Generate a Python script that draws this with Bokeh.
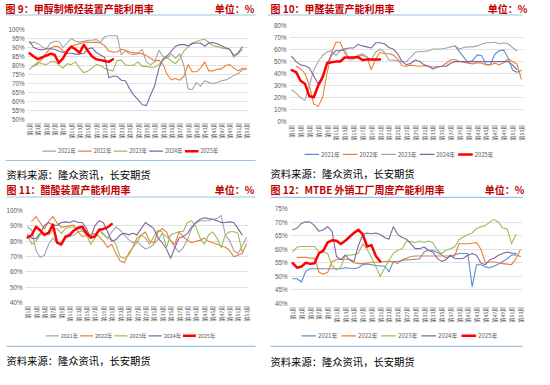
import math
import numpy as np
from bokeh.plotting import figure
from bokeh.layouts import column, row
from bokeh.models import FixedTicker, PrintfTickFormatter, Range1d, Plot
from bokeh.core.properties import value
from bokeh.embed import file_html
from bokeh.resources import INLINE

N = None
weeks = list(range(1, 54))
tick_weeks = list(range(1, 54, 2))
tick_labels = ["第%d周" % w for w in tick_weeks]
years = ["2021年", "2022年", "2023年", "2024年", "2025年"]
source_text = "资料来源：隆众资讯，长安期货"
unit_text = "单位：%"

title9 = "图 9：甲醇制烯烃装置产能利用率"
title10 = "图 10：甲醛装置产能利用率"
title11 = "图 11：醋酸装置产能利用率"
title12 = "图 12：MTBE 外销工厂周度产能利用率"

# ---- Panel 9: MTO utilisation (%) ----
p9_2021 = [92.5, 93, 92, 90.5, 89, 92.5, 93.5, 93.5, 90, 92.5, 95, 93.5, 93, 93.5, 94, 94, 94.5, 93,
           96, 96.5, 96.5, 96.5, 86, 88, 86.5, 86, 86.5, 89, 82, 80.5, 82, 88.5, 85, 84, 86.5, 84,
           86.5, 80, 67, 66.5, 70.5, 68.5, 71.5, 70.5, 70, 70.5, 71.5, 72, 73, 74.5, 75.5, 77.5, 78]
p9_2022 = [N, 79.5, 81, 83.5, 87, 89.5, 90.7, 90.5, 88, 87.2, 90.5, 91.5, 92, 93, 93, 92.8, 93, 92.5,
           91, 88, 87.5, 87.5, 89, 88.5, 87.5, 87, 87, 86.5, 85.5, 84, 82.5, 83, 80.5, 75, 72, 72.8,
           71.8, 74, 80.5, 76.5, 76.5, 78.5, 82, 77, 77, 78, 78, 80, 80.5, 78.5, 77, 78.5, 78.5]
p9_2023 = [78, 80, 82, 81, 80.5, 82, 82.3, 80.5, 78.5, 81, 80.5, 82, 78.5, 76, 77, 78.5, 80.5, 80,
           78.5, 77.5, 77, 82.8, 83, 80.2, 80, 80.2, 82, 79.5, 79.5, 79, 79, 80.5, 82.8, 84.5, 82.5,
           81, 83.7, 88, 90.4, 92.5, 93.3, 94.2, 94.6, 92.8, 91, 90.5, 89.8, 89.3, 89, 84.5, 86.5, 89, N]
p9_2024 = [93.3, 90, 89, 88.7, 89.3, 89.3, 89, 88, 87.2, 86.8, 86.8, 86.3, 86.3, 86.8, 89.3, 89.8,
           87.2, 85.8, 84.6, 73.2, 74, 74, 71.8, 71.5, 67, 63.5, 61, 58.2, 57.7, 63.5, 68.8, 78.4,
           83.7, 85.4, 88, 90.7, 91.6, 91.6, 91, 92.1, 92.5, 92.5, 90.7, 92.5, 92.8, 92.1, 91, 89.8,
           89, 85.5, 87, 90.4, N]
p9_2025 = [86.8, 85, 83.5, 84.5, 85.5, 86.5, 86, 81.5, 84, 88, 90.5, 89, 87, 91.5, 88, 85, 83.5, 83,
           82.5, 82, 83.5]

# ---- Panel 10: formaldehyde utilisation (%) ----
p10_2021 = [N] * 37 + [63, 58, 53.5, 49, 51, 55.5, 55, 47.5, 47.5, 56, 59, 59.5, 53, 43, 41, 42.5, 48.6]
p10_2022 = [N, 46, 44, 40, 30, 14.5, 12.6, 20, 40, 57, 66, 66, 57, 53.5, 53, 54.5, 55, 54, 43.3, 52,
            57.5, 56.4, 56.4, 55.5, 52, 46.5, 46, 47, 46.5, 46, 46.5, 46, 45.4, 45.4, 46, 48.6, 51.2,
            51.7, 50, 49.5, 48.6, 48, 49, 48.6, 47.2, 47.2, 48.6, 47.2, 49, 52, 50, 48, 35.4]
p10_2023 = [26.2, 23.6, 19.7, 17.6, 30, 43, 50, 55, 58, 59, 55.1, 59, 60.4, 51.2, 51.7, 55.1, 56.4,
            54, 51.2, 57.7, 60.4, 57.7, 51.2, 51.2, 50.7, 49.9, 49.9, 53.8, 57.7, 58.3, 58.3, 59,
            60.4, 60.4, 60.4, 61.2, 62.2, 63, 60.4, 61.7, 62.2, 62.2, 63, 64.3, 65.6, 65.6, 66.1,
            64.8, 65.6, 64.8, 61.7, 59, N]
p10_2024 = [54.3, 49.9, 47.2, 46.5, 44.6, 38, 31.5, 38, 48.6, 55.1, 59, 59, 60.4, 61.2, 61.2, 64.3,
            63, 62.2, 61.2, 65.6, 65.6, 64.8, 61.7, 60.4, 56.4, 49.9, 47.2, 48.6, 51.2, 50, 47.2, 46,
            43.8, 45.4, 46, 46, 48.6, 49.9, 49.9, 49.9, 49.9, 49.9, 49.9, 49.9, 49.9, 49.9, 49.9,
            49.9, 49.9, 49.9, 47.2, 43.3, N]
p10_2025 = [42.8, 41.2, 34, 31.5, 21, 20.2, 30, 36.7, 48.5, 49.3, 49.9, 50, 53.3, 53.3, 53.3, 53.8,
            51.2, 51.7, 51.7, 51.7, 51.7]

# ---- Panel 11: acetic acid utilisation (%) ----
p11_2021 = [89.2, 87.1, 73.9, 69.4, 70.8, 78, 82, 79, 76.9, 82, 83, 84, 86.1, 86.5, 86.5, 81.6, 84.1,
            87.1, 85.1, 82, 86.1, 89.2, 87.1, 84.1, 81, 79, 80, 77, 74.9, 75.9, 78, 81, 85.1, 83.1,
            80.4, 75.9, 72.9, 75.9, 81, 88.2, 91.8, 93.3, 93.3, 93.3, 94.3, 94.7, 96.7, 84.1, 80.4,
            73.9, 71.8, 76.9, 82.4]
p11_2022 = [N, 93, 96, 92, 88, 93, 96, 92, 89, 89.5, 90, 90.5, 86, 83, 83.5, 84.5, 85, 83, 80, 76,
            78, 72, 67, 66, 72, 76, 82, 84, 86, 80, 79, 86, 88.2, 86, 80, 78, 86.1, 83, 80.5, 79, 80,
            80.5, 82, 80, 79, 78, 77, 76, 73.9, 69.8, 70.8, 72, 78]
p11_2023 = [84.1, 78, 80, 84.1, 85.1, 84.1, 87.1, 88.2, 85.1, 88.2, 89.2, 89.2, 88.2, 87.1, 84.1, 78,
            82, 87.1, 84.1, 82, 81, 78, 69.8, 68.8, 70.8, 75.9, 79, 84.1, 82, 78, 83.1, 87.1, 86,
            75.9, 84.1, 85.1, 86.1, 86.5, 92.2, 93.3, 89.2, 82, 78, 84, 86.1, 82, 75.9, 84.1, 86.1,
            86.1, 85.1, 72.9, N]
p11_2024 = [84.1, 82, 81.6, 85.1, 90.2, 92.2, 90.6, 90.2, 92.2, 92.6, 92.2, 93.3, 92.2, 92.2, 88.2,
            82, 90.2, 93.3, 92.2, 86.1, 80, 81, 84.1, 85.1, 84.1, 85.1, 84.1, 88.2, 92.2, 90.2, 88.2,
            82, 79, 74.9, 68.8, 75.9, 82, 83, 85.1, 89.2, 92.2, 94.3, 95.3, 94.7, 94.3, 93.3, 92.2,
            92.2, 92.6, 92.2, 88.2, 84.1, N]
p11_2025 = [82.4, 84, 89.4, 87, 84.1, 85.5, 90.8, 79, 78, 83, 84, 87, 88.8, 89.4, 85, 82.4, 83, 87.5,
            88, 89, 91.2]

# ---- Panel 12: MTBE utilisation (%) ----
p12_2021 = [49.1, 49.1, 47.9, 52, 52.8, 52.8, 52.8, 52.8, 52.8, 52.8, 52.8, 52.8, 53.2, 53, 52.8,
            53.2, 54.3, 54.6, 54.3, 54, 53.8, 53.8, 51.7, 55.5, 55.5, 55.9, 56.1, 56.1, 56.3, 56.5,
            59, 59.6, 59.6, 58.8, 58, 56.7, 57.3, 58, 58.4, 58.4, 58.4, 46.2, 54.3, 54.3, 53.5, 53.2,
            53.8, 54.5, 55.5, 56.5, 57.8, 58, 57.3]
p12_2022 = [N, 57, 57, 57, 56.7, 56.7, 51.5, 50.8, 51.5, 55.5, 56.1, 56.3, 56.3, 56.1, 55, 54.7,
            54.7, 54.9, 55.2, 55.2, 55.3, 55.5, 55.6, 55.3, 54.7, 56.1, 56.7, 57.3, 57.5, 57.5, 57.5,
            57.5, 57.5, 57.5, 57.5, 57.5, 57.5, 57.5, 62, 62, 62, 62.2, 62.5, 60, 55, 55.3, 55.3, 55,
            54.7, 54.5, 54.3, 56.5, 59.8]
p12_2023 = [59, 60.8, 61, 61, 61, 61, 59, 59, 58.4, 54, 52.4, 53.5, 57.8, 57.8, 58, 58.5, 62, 60, 57,
            53.5, 50, 53, 56, 58.5, 59.6, 60.2, 63, 62.8, 62.5, 63, 62.5, 63, 62.5, 59.6, 58.4, 59.6,
            60.2, 60.8, 63.5, 64.5, 65.4, 66, 67.6, 68.3, 68.7, 70, 71, 70, 67.8, 67.5, 62, 65.4, N]
p12_2024 = [67.2, 67.8, 69.5, 70.1, 70, 68.7, 66.6, 67.2, 68.3, 66.6, 57.3, 56.1, 57.8, 56.1, 55.5,
            61.3, 65.4, 66, 65.7, 66, 65.4, 64.3, 63.7, 68.3, 65.4, 64.3, 63.7, 62, 60.2, 60.2, 60.8,
            59.6, 59, 56.7, 55.5, 56.1, 57.8, 56.7, 56.5, 56.7, 57.8, 58.4, 57.8, 54.9, 54.3, 56.1,
            56.7, 57.8, 58.4, 59, 58.5, 58.5, N]
p12_2025 = [54.9, 53.2, 53.6, 55.0, 54.6, 54.8, 58.5, 59.5, 62.5, 63.3, 63.1, 61.9, 63.1, 64.6, 66.0,
            67.2, 65.5, 61.0, 61.5, 57.5, 55.5]

GRAY, ORANGE, GREEN, PURPLE, BLUE, RED = "#A5A5A5", "#ED7D31", "#9BBB59", "#8064A2", "#5B8FD0", "#FF0000"
TITLE_RED = "#C00000"
SEP_BLUE = "#9DC3E6"
CJK = "Noto Sans CJK SC"
W = 267
FA = {"frame_align": False} if "frame_align" in Plot.properties() else {}


def blank_fig(h):
    f = figure(width=W, height=h, output_backend="svg", toolbar_location=None,
               x_range=Range1d(0, W), y_range=Range1d(h, 0),
               x_axis_location=None, y_axis_location=None, min_border=0,
               min_border_left=0, min_border_right=0, min_border_top=0, min_border_bottom=0, **FA)
    f.grid.visible = False
    f.outline_line_color = None
    f.border_fill_color = "white"
    f.background_fill_color = "white"
    return f


def make_header(title, g):
    f = blank_fig(g["hh"])
    f.text(x=[g["tx"]], y=[g["ty"]], text=[title], text_font=value(CJK), text_font_size="10px",
           text_font_style="bold", text_color=TITLE_RED, text_baseline="middle", text_align="left")
    f.text(x=[g["ux"]], y=[g["ty"]], text=[unit_text], text_font=value(CJK), text_font_size="10px",
           text_font_style="bold", text_color=TITLE_RED, text_baseline="middle", text_align="right")
    f.segment(x0=[g["s0"]], y0=[g["sy"]], x1=[g["s1"]], y1=[g["sy"]], line_color=SEP_BLUE,
              line_width=1.2)
    return f


def make_footer(colors, g):
    f = blank_fig(g["hf"])
    # legend row
    x0 = [g["lx"] + i * g["pitch"] for i in range(len(years))]
    x1 = [x + g["gw"] for x in x0]
    yy = [g["ly"]] * len(years)
    widths = [2.5 if i == 4 else 1.2 for i in range(len(years))]
    f.segment(x0=x0, y0=yy, x1=x1, y1=yy, line_color=colors, line_width=widths)
    f.text(x=[x + 2 for x in x1], y=yy, text=years, text_font=value(CJK),
           text_font_size=g["lf"], text_color="#595959", text_baseline="middle", text_align="left")
    if g.get("by") is not None:
        f.segment(x0=[g["s0"]], y0=[g["by"]], x1=[g["s1"]], y1=[g["by"]], line_color=SEP_BLUE,
                  line_width=1.2)
    f.text(x=[g["sx"]], y=[g["srcy"]], text=[source_text], text_font=value(CJK),
           text_font_size="10.3px", text_color="#000000", text_baseline="middle", text_align="left")
    return f


def make_chart(series, colors, yr, yticks, g):
    p = figure(width=W, height=g["hc"], output_backend="svg", toolbar_location=None,
               x_range=Range1d(0.5, 53.5), y_range=Range1d(*yr),
               min_border_left=g["L"], min_border_right=g["R"],
               min_border_top=g["T"], min_border_bottom=g["B"], **FA)
    p.outline_line_color = None
    p.border_fill_color = "white"
    p.background_fill_color = "white"
    p.xgrid.grid_line_color = None
    p.ygrid.grid_line_color = "#D9D9D9"
    p.ygrid.grid_line_width = 0.8
    p.yaxis.ticker = FixedTicker(ticks=yticks)
    p.yaxis.formatter = PrintfTickFormatter(format="%d%%")
    p.xaxis.ticker = FixedTicker(ticks=tick_weeks)
    p.xaxis.major_label_overrides = {w: lab for w, lab in zip(tick_weeks, tick_labels)}
    p.xaxis.major_label_orientation = math.pi / 2
    for ax in (p.xaxis[0], p.yaxis[0]):
        ax.axis_line_color = None
        ax.major_tick_line_color = None
        ax.minor_tick_line_color = None
        ax.major_tick_out = 0
        ax.major_tick_in = 0
        ax.minor_tick_out = 0
        ax.minor_tick_in = 0
        ax.major_label_text_color = "#595959"
        ax.major_label_standoff = 3
    p.yaxis.major_label_text_font_size = "6.3px"
    p.yaxis.major_label_text_font = "Liberation Sans"
    p.xaxis.major_label_text_font_size = "5.2px"
    p.xaxis.major_label_text_font = CJK

    for i, vals in enumerate(series):
        xs = weeks[:len(vals)]
        ys = [np.nan if v is None else v for v in vals]
        lw = 2.5 if i == 4 else 1.1
        p.line(xs, ys, line_color=colors[i], line_width=lw, line_join="round", line_cap="round")
    return p


def make_panel(title, series, colors, yr, yticks, g):
    return column(make_header(title, g), make_chart(series, colors, yr, yticks, g),
                  make_footer(colors, g), spacing=0)


g9 = dict(hh=20, hc=121, hf=40, L=27, R=19, T=9, B=21,
          tx=5, ux=254, ty=8, s0=5, s1=255, sy=14.5, by=19, sx=6, srcy=32.7,
          lx=42, pitch=35.6, ly=9.7, lf="5.5px", gw=13.6)
g10 = dict(hh=20, hc=123, hf=38, L=22, R=11, T=5, B=21,
           tx=3, ux=260, ty=8, s0=0, s1=255, sy=14.5, by=None, sx=3, srcy=29.7,
           lx=37, pitch=38.4, ly=10.9, lf="5.8px", gw=14.6)
g11 = dict(hh=20, hc=123, hf=44, L=25, R=19, T=9, B=21,
           tx=6, ux=254, ty=8, s0=6, s1=255, sy=15.5, by=21.8, sx=6, srcy=36.4,
           lx=45.3, pitch=34.3, ly=11.3, lf="5.4px", gw=13)
g12 = dict(hh=20, hc=124, hf=43, L=23, R=12, T=7, B=21,
           tx=3, ux=257, ty=8, s0=3, s1=255, sy=15.9, by=20.8, sx=3, srcy=36,
           lx=34, pitch=40, ly=10.3, lf="6px", gw=14.6)

c9 = make_panel(title9, [p9_2021, p9_2022, p9_2023, p9_2024, p9_2025],
                [GRAY, ORANGE, GREEN, PURPLE, RED], (50, 100), list(range(50, 101, 5)), g9)
c10 = make_panel(title10, [p10_2021, p10_2022, p10_2023, p10_2024, p10_2025],
                 [BLUE, ORANGE, GRAY, PURPLE, RED], (0, 80), list(range(0, 81, 10)), g10)
c11 = make_panel(title11, [p11_2021, p11_2022, p11_2023, p11_2024, p11_2025],
                 [GRAY, ORANGE, GREEN, PURPLE, RED], (40, 100), list(range(40, 101, 10)), g11)
c12 = make_panel(title12, [p12_2021, p12_2022, p12_2023, p12_2024, p12_2025],
                 [BLUE, ORANGE, GREEN, PURPLE, RED], (40, 75), list(range(40, 76, 5)), g12)

layout = column(row(c9, c10, spacing=0), row(c11, c12, spacing=0), spacing=0)
open("out.html", "w").write(file_html(layout, INLINE))
